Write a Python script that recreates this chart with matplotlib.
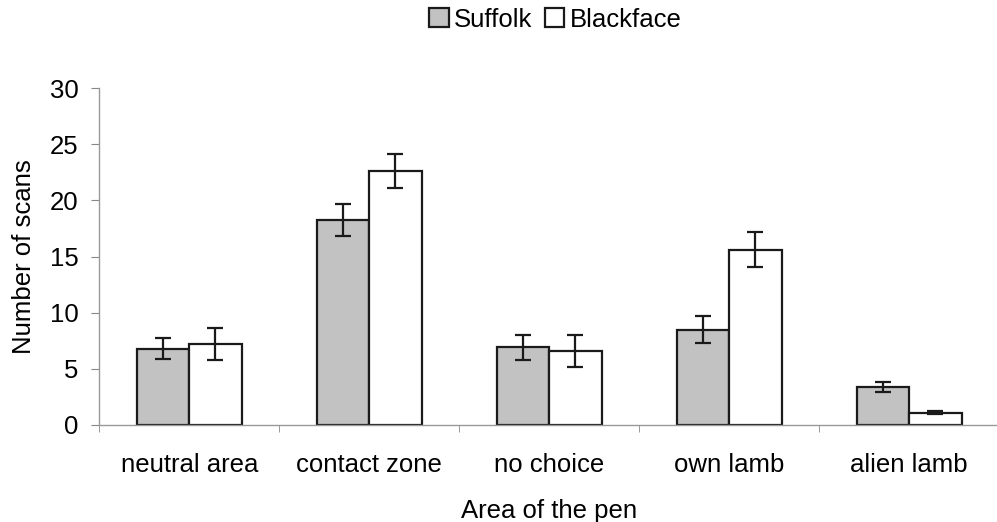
import matplotlib
matplotlib.use("Agg")
import matplotlib.pyplot as plt
import numpy as np

plt.rcParams['font.family'] = ['Liberation Sans', 'DejaVu Sans']

categories = ["neutral area", "contact zone", "no choice", "own lamb", "alien lamb"]
suffolk = [6.8, 18.25, 6.9, 8.5, 3.35]
suffolk_err = [0.95, 1.4, 1.1, 1.2, 0.45]
blackface = [7.2, 22.6, 6.6, 15.6, 1.1]
blackface_err = [1.4, 1.5, 1.45, 1.55, 0.1]
yticks = [0, 5, 10, 15, 20, 25, 30]

FS = 18.5

fig = plt.figure(figsize=(9.97, 5.22), dpi=100)
ax = fig.add_axes([0.0995, 0.186, 0.9027, 0.645])

x = np.arange(len(categories))
w = 0.292
err_kw = dict(ecolor='#1a1a1a', elinewidth=1.6, capsize=6, capthick=1.6)
b1 = ax.bar(x - w / 2, suffolk, w, yerr=suffolk_err, color='#c2c2c2',
            edgecolor='#1a1a1a', linewidth=1.6, error_kw=err_kw, label='Suffolk')
b2 = ax.bar(x + w / 2, blackface, w, yerr=blackface_err, color='white',
            edgecolor='#1a1a1a', linewidth=1.6, error_kw=err_kw, label='Blackface')

ax.set_xlim(-0.5, len(categories) - 0.5)
ax.set_ylim(0, 30)
ax.set_yticks(yticks)
ax.set_xticks(x)
ax.set_xticklabels(categories, fontsize=FS)
ax.set_xticks(np.arange(len(categories) + 1) - 0.5, minor=True)
ax.tick_params(axis='x', which='major', length=0, pad=20)
ax.tick_params(axis='x', which='minor', length=5, color='#888888')
ax.tick_params(axis='y', labelsize=FS, length=6, color='#888888', pad=9)

for s in ['top', 'right']:
    ax.spines[s].set_visible(False)
for s in ['left', 'bottom']:
    ax.spines[s].set_color('#999999')
    ax.spines[s].set_linewidth(1.0)

ax.set_ylabel("Number of scans", fontsize=FS, labelpad=10)
ax.set_xlabel("Area of the pen", fontsize=FS, labelpad=16)

fig.legend(handles=[b1, b2], loc='center', bbox_to_anchor=(0.557, 0.962),
           ncol=2, frameon=False, fontsize=FS, handlelength=0.75,
           handleheight=0.75, handletextpad=0.2, columnspacing=0.5)

fig.savefig("out.png", dpi=100)
